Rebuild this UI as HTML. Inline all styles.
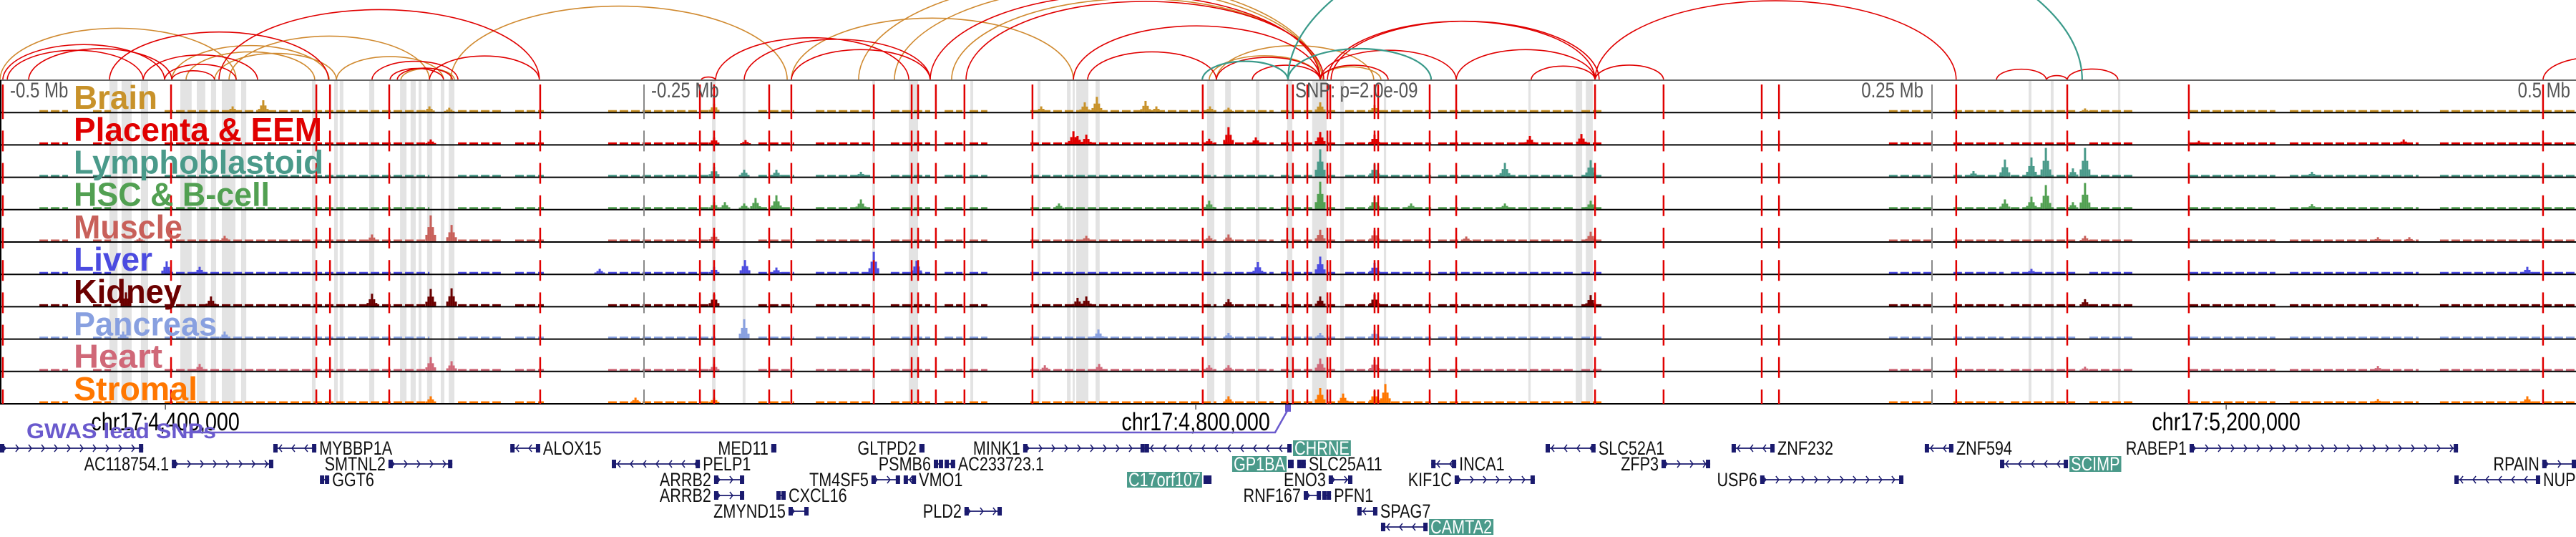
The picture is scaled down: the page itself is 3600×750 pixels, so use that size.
<!DOCTYPE html>
<html><head><meta charset="utf-8"><style>
html,body{margin:0;padding:0;background:#fff;}
svg{display:block;font-family:"Liberation Sans",sans-serif;}
</style></head><body>
<svg id="chart" width="3600" height="750" viewBox="0 0 3600 750" xmlns="http://www.w3.org/2000/svg">
<g id="bands"></g>
<g id="arcs"></g>
<g id="tracks"></g>
<g id="vlines"></g>
<g id="labels"></g>
<g id="axis"></g>
<g id="genes"></g>
</svg>
<script>
// ---- data (positions in kb from window start; window = 1000 kb, chr17:4,335,800) ----
const trackNames=["Brain","Placenta & EEM","Lymphoblastoid","HSC & B-cell","Muscle","Liver","Kidney","Pancreas","Heart","Stromal"];
const trackColors=["#c8922a","#e00000","#4a9a8a","#52a052","#c8605a","#4b4be0","#6b0000","#88a0e0","#d06878","#ff7700"];
const labelWidths=[117,347,349,274,152,110,151,200,124,173];
const brainPeaks=[[90.3,8],[102.2,17],[166.7,8],[174.4,6],[277.2,12],[404.2,8],[421.1,14],[425.8,22],[444.7,16],[448.9,8],[469.7,8],[476.9,6],[512.5,14],[533.6,10],[809.4,5]];
const placentaPeaks=[[167.2,7],[277.2,10],[289.4,6],[416.7,19],[418.3,12],[421.7,14],[469.4,8],[476.9,25],[487.5,10],[512.5,18],[533.6,14],[593.9,12],[613.9,15],[853.6,5],[933.1,7]];
const lymphoPeaks=[[277.2,14],[288.9,10],[301.4,10],[334.2,7],[512.5,40],[533.6,18],[584.2,20],[617.5,24],[766.1,8],[778.3,25],[788.6,28],[794.2,42],[804.7,12],[809.4,42],[897.5,7]];
const hscPeaks=[[277.2,10],[281.4,10],[288.9,8],[293.3,16],[301.4,20],[334.2,14],[411.1,8],[469.4,12],[512.5,40],[533.6,18],[547.8,8],[584.2,8],[617.5,12],[778.3,14],[788.6,18],[794.2,35],[804.7,10],[809.4,38],[897.5,7]];
const musclePeaks=[[54.2,5],[87.2,8],[144.4,10],[167.2,38],[175.3,24],[277.2,12],[421.7,8],[469.4,8],[476.9,10],[512.5,17],[533.6,16],[569.2,7],[617.5,14],[809.4,8],[923.1,6],[935.3,6]];
const liverPeaks=[[64.7,18],[77.5,10],[232.8,7],[277.2,10],[289.2,20],[301.4,9],[339.2,32],[355.8,19],[488.3,17],[512.5,25],[533.6,16],[788.6,7],[981.1,10]];
const kidneyPeaks=[[48.9,20],[81.9,14],[144.4,18],[167.2,25],[175.3,26],[277.2,17],[418.3,12],[421.7,14],[476.9,10],[512.5,14],[533.6,17],[617.5,16],[809.4,10]];
const pancreasPeaks=[[47.8,10],[87.2,10],[288.9,28],[426.4,13],[476.9,8],[512.5,8],[533.6,12]];
const heartPeaks=[[77.5,10],[167.2,20],[175.3,14],[277.2,10],[405.6,8],[426.7,10],[469.4,8],[476.9,8],[512.5,18],[533.6,16],[809.4,6],[923.1,7]];
const stromalPeaks=[[167.2,10],[246.7,8],[277.2,8],[476.9,10],[512.5,22],[521.4,14],[533.6,18],[537.8,28],[923.1,6],[981.1,10]];
const allPeaks=[brainPeaks,placentaPeaks,lymphoPeaks,hscPeaks,musclePeaks,liverPeaks,kidneyPeaks,pancreasPeaks,heartPeaks,stromalPeaks];
const baselineSegs=[[15.3,26.4],[36.1,43.1],[63.9,166.7],[177.8,194.4],[200,211.1],[236.1,277.8],[294.4,308.3],[316.7,338.9],[345.8,361.1],[366.7,373.6],[376.4,383.3],[400,472.2],[475,494.4],[497.2,519.4],[522.2,555.6],[558.3,611.1],[613.9,622.2],[733.3,750],[758.3,777.8],[780.6,805.6],[811.1,827.8],[850,883.3],[888.9,938.9],[947.2,1000]];
const redLines=[1.1,66.4,122.8,128.1,151.1,209.7,271.7,277.2,298.6,307.2,339.2,353.9,356.4,363.3,374.4,400.8,466.9,499.7,501.9,507.5,515.3,516.4,533.6,535,555,565.3,619.2,645.8,683.9,690.6,759.4,802.5,849.7,987.2];
const grayBands=[[42.5,45.6],[47.2,51.1],[54.7,57.5],[70,74.4],[76.4,79.7],[81.9,83.9],[86.1,91.4],[93.6,95.6],[121.1,122.5],[129.7,131.1],[131.9,133.3],[143.3,145.3],[155.3,157.8],[159.4,161.4],[162.5,163.6],[165.8,167.8],[171.1,172.5],[174.2,176.4],[276.4,277.8],[288.3,289.4],[338.6,339.7],[352.8,356.4],[376.7,377.8],[402.8,403.9],[414.2,415.6],[416.4,417.2],[417.8,422.5],[425.3,426.9],[468.6,471.4],[475.6,477.8],[487.5,488.9],[499.7,501.7],[509.4,515],[520.3,521.7],[537.2,538.1],[593.3,594.2],[611.7,614.2],[615.6,618.3],[787.5,788.6],[796.1,797.2],[822.2,823.1]];
const arcsRed=[[1.1,63.9],[2.8,55.6],[11.1,66.7],[42.5,127.5],[55.6,100],[63.9,91.7],[66.7,83.3],[85,209.4],[144.4,177.8],[151.4,172.2],[154.2,175.6],[166.7,209.4],[277.8,352.8],[288.9,361.1],[307.2,361.1],[272.2,277.8],[416.7,512.5],[422.2,472.2],[472.2,512.5],[486.1,512.5],[512.5,538.9],[512.5,565.3],[515.3,619.2],[516.7,620.8],[565.3,619.2],[619.2,645.8],[594.4,619.2],[361.1,512.5],[375,513.9],[619.2,759.4],[775,794.4],[802.5,822.2],[794.4,802.5],[987.2,1027.8]];
const arcsOrange=[[0,91.7],[66.7,127.8],[72.2,122.2],[83.3,130.6],[88.9,166.7],[130.6,172.2],[155.6,176.4],[175,305.6],[307.2,416.7],[333.3,512.5],[347.2,512.5],[369.4,513.3],[469.4,512.5],[472.2,533.3],[512.5,536.1]];
const arcsTeal=[[466.7,500],[500,555.6],[500,808.3]];
const mbTicks=[0,250,500,750,1000];
const mbLabels=["-0.5 Mb","-0.25 Mb","SNP: p=2.0e-09","0.25 Mb","0.5 Mb"];
const chrTicks=[64.2,464.2,864.2];
const chrLabels=["chr17:4,400,000","chr17:4,800,000","chr17:5,200,000"];
const gwasSnp=[500];
// genes: [start, end, strand, label, side, row, highlight]
const genes=[
[0,55.6,1,"","R",0,0],[106.1,122.8,-1,"MYBBP1A","R",0,0],[198.1,209.7,-1,"ALOX15","R",0,0],[299.4,301.4,1,"MED11","L",0,0],[356.9,358.9,-1,"GLTPD2","L",0,0],[397.2,444.4,1,"MINK1","L",0,0],[444.4,501.4,-1,"CHRNE","R",0,1],[600,619.4,-1,"SLC52A1","R",0,0],[672.2,688.9,-1,"ZNF232","R",0,0],[747.2,758.3,-1,"ZNF594","R",0,0],[850,954.2,1,"RABEP1","L",0,0],
[66.7,106.1,1,"AC118754.1","L",1,0],[150.8,175.6,1,"SMTNL2","L",1,0],[237.5,271.7,-1,"PELP1","R",1,0],[362.5,366.1,-1,"PSMB6","L",1,0],[366.7,370.8,-1,"AC233723.1","R",1,0],[500,502.2,1,"GP1BA","L",1,1],[503.6,506.9,-1,"SLC25A11","R",1,0],[555.6,565.3,-1,"INCA1","R",1,0],[645,663.9,1,"ZFP3","L",1,0],[776.4,802.8,-1,"SCIMP","R",1,1],[986.9,1000,1,"RPAIN","L",1,0],
[124.2,127.8,-1,"GGT6","R",2,0],[277.2,288.9,1,"ARRB2","L",2,0],[338.3,349.4,1,"TM4SF5","L",2,0],[350.8,355.6,-1,"VMO1","R",2,0],[467.2,470.3,1,"C17orf107","L",2,1],[515.8,525,1,"ENO3","L",2,0],[564.7,595.8,1,"KIF1C","L",2,0],[683.3,738.9,1,"USP6","L",2,0],[952.8,986.1,-1,"NUP88","R",2,0],
[277.2,288.9,1,"ARRB2","L",3,0],[301.4,305,-1,"CXCL16","R",3,0],[506.1,512.8,1,"RNF167","L",3,0],[513.3,516.7,-1,"PFN1","R",3,0],
[306.1,313.9,1,"ZMYND15","L",4,0],[374.4,388.9,1,"PLD2","L",4,0],[526.9,534.7,-1,"SPAG7","R",4,0],
[536.1,554.2,-1,"CAMTA2","R",5,1]
];

// ---- scales / layout ----
const NS="http://www.w3.org/2000/svg";
const x=kb=>kb*3.6;
const TOP=112, TH=45.2, NT=10, BOT=TOP+NT*TH;
const ySig=v=>v*40/42;
function mk(tag,attrs,parent){const e=document.createElementNS(NS,tag);for(const k in attrs)e.setAttribute(k,attrs[k]);parent.appendChild(e);return e;}
function condense(t,f){const L=t.getComputedTextLength();if(L>0){t.setAttribute('textLength',L*f);t.setAttribute('lengthAdjust','spacingAndGlyphs');}}
const gB=document.getElementById('bands'),gA=document.getElementById('arcs'),gT=document.getElementById('tracks'),gV=document.getElementById('vlines'),gL=document.getElementById('labels'),gX=document.getElementById('axis'),gG=document.getElementById('genes');

// bands
grayBands.forEach(b=>{const r=mk('rect',{x:x(b[0]),y:TOP+1,width:Math.max(2,x(b[1])-x(b[0])),height:BOT-TOP-1,fill:'#e3e3e3'},gB);

});

// arcs
function drawArcs(list,color,w){list.forEach(a=>{const x1=x(a[0]),x2=x(a[1]),rx=(x2-x1)/2,ry=(x2-x1)*0.22;
const p=mk('path',{d:`M${x1} ${TOP} A${rx} ${ry} 0 0 1 ${x2} ${TOP}`,fill:'none',stroke:color,'stroke-width':w},gA);

});}
drawArcs(arcsOrange,'#d08a30',1.6);
drawArcs(arcsRed,'#e00000',1.6);
drawArcs(arcsTeal,'#3a9a8a',2.2);

// tracks
const shape=[0.25,0.55,1,0.55,0.25];
for(let i=0;i<NT;i++){
  const bot=TOP+(i+1)*TH, col=trackColors[i];
  const g=mk('g',{},gT);
  
  
  baselineSegs.forEach(s=>{mk('line',{x1:x(s[0]),x2:x(s[1]),y1:bot-2,y2:bot-2,stroke:col,'stroke-width':3,'stroke-dasharray':'12 4'},g);});
  allPeaks[i].forEach(p=>{const cx=x(p[0]);shape.forEach((f,k)=>{const h=ySig(p[1])*f;
    const r=mk('rect',{x:cx+(k-2)*3-1.5,y:bot-1-h,width:3,height:h,fill:col},g);
    
    });});
  const ln=mk('line',{x1:0,x2:3600,y1:bot,y2:bot,stroke:'#000','stroke-width':2},g);
  
  
  const t=mk('text',{x:103,y:TOP+i*TH+40,'font-size':46,'font-weight':'bold',fill:col,textLength:labelWidths[i],lengthAdjust:'spacingAndGlyphs'},gL);
  t.textContent=trackNames[i];
  
  
}
mk('line',{x1:0,x2:3600,y1:TOP,y2:TOP,stroke:'#666','stroke-width':2},gT);
mk('line',{x1:1,x2:1,y1:TOP,y2:BOT,stroke:'#000','stroke-width':2},gT);

// vertical dashed lines
function vdash(px,color,w,name){for(let i=0;i<NT;i++){const bot=TOP+(i+1)*TH;const y1=i===0?TOP+6:bot-20;const y2=Math.min(BOT,bot+9);
  const l=mk('line',{x1:px,x2:px,y1:y1,y2:y2,stroke:color,'stroke-width':w},gV);
  
  }}
mbTicks.forEach((m,i)=>{if(i>0&&i<4&&i!==2)vdash(x(m),'#888',2,'mb-gridline');});
redLines.forEach(r=>vdash(x(r),'#e00000',2.5,'snp-line'));

// Mb labels
mbTicks.forEach((m,i)=>{let px=x(m),anchor='start',off=10;
  if(i===0){px=4;}
  if(i>=3){anchor='end';off=-12;}
  if(i===4)off=-8;
  const t=mk('text',{x:px+off,y:136,'font-size':30,fill:'#555','text-anchor':anchor},gX);
  t.textContent=mbLabels[i];
  
  
  condense(t,0.8);});

// chr axis
chrTicks.forEach((c,i)=>{mk('line',{x1:x(c),x2:x(c),y1:BOT,y2:BOT+8,stroke:'#555','stroke-width':1.5},gX);
  const t=mk('text',{x:x(c),y:601,'font-size':35,fill:'#000','text-anchor':'middle'},gX);
  t.textContent=chrLabels[i];
  
  
  condense(t,0.82);});

// GWAS lead SNP
const sx=x(gwasSnp[0]);
const gp=mk('path',{d:`M260 604 L${sx-18} 604 L${sx} 572`,fill:'none',stroke:'#6a5acd','stroke-width':2.5},gX);


const gr=mk('rect',{x:sx-4,y:565,width:8,height:10,fill:'#6a5acd'},gX);


const gt=mk('text',{x:37,y:612,'font-size':30,'font-weight':'bold',fill:'#6a5acd',textLength:265,lengthAdjust:'spacingAndGlyphs'},gX);
gt.textContent='GWAS lead SNPs';



// genes
const NAVY='#1a1a6e';
genes.forEach(gn=>{
  const [s,e,str,lab,side,row,hl]=gn;const x1=x(s),x2=Math.min(3600,x(e)),y=626+row*22;
  const g=mk('g',{},gG);
  
  
  mk('line',{x1:x1,x2:x2,y1:y,y2:y,stroke:NAVY,'stroke-width':1.8},g);
  for(let ax=x1+8;ax<x2-4;ax+=18){const d=str>0?`M${ax-4} ${y-5} L${ax} ${y} L${ax-4} ${y+5}`:`M${ax+4} ${y-5} L${ax} ${y} L${ax+4} ${y+5}`;
    mk('path',{d:d,fill:'none',stroke:NAVY,'stroke-width':1.5},g);}
  mk('rect',{x:x1,y:y-6,width:Math.min(6,x2-x1),height:12,fill:NAVY},g);
  mk('rect',{x:x2-Math.min(6,x2-x1),y:y-6,width:Math.min(6,x2-x1),height:12,fill:NAVY},g);
  if(lab){
    const tx=side==='L'?x1-4:x2+4;
    const t=mk('text',{x:tx,y:y+9,'font-size':27,fill:hl?'#fff':'#111','text-anchor':side==='L'?'end':'start'},g);
    t.textContent=lab;
    
    
    condense(t,0.8);
    if(hl){const bb=t.getBBox();const r=document.createElementNS(NS,'rect');
      r.setAttribute('x',bb.x-2);r.setAttribute('y',y-11);r.setAttribute('width',bb.width+4);r.setAttribute('height',22);r.setAttribute('fill','#4a9a8a');
      
      
      g.insertBefore(r,t);}
  }
});
</script>
</body></html>
